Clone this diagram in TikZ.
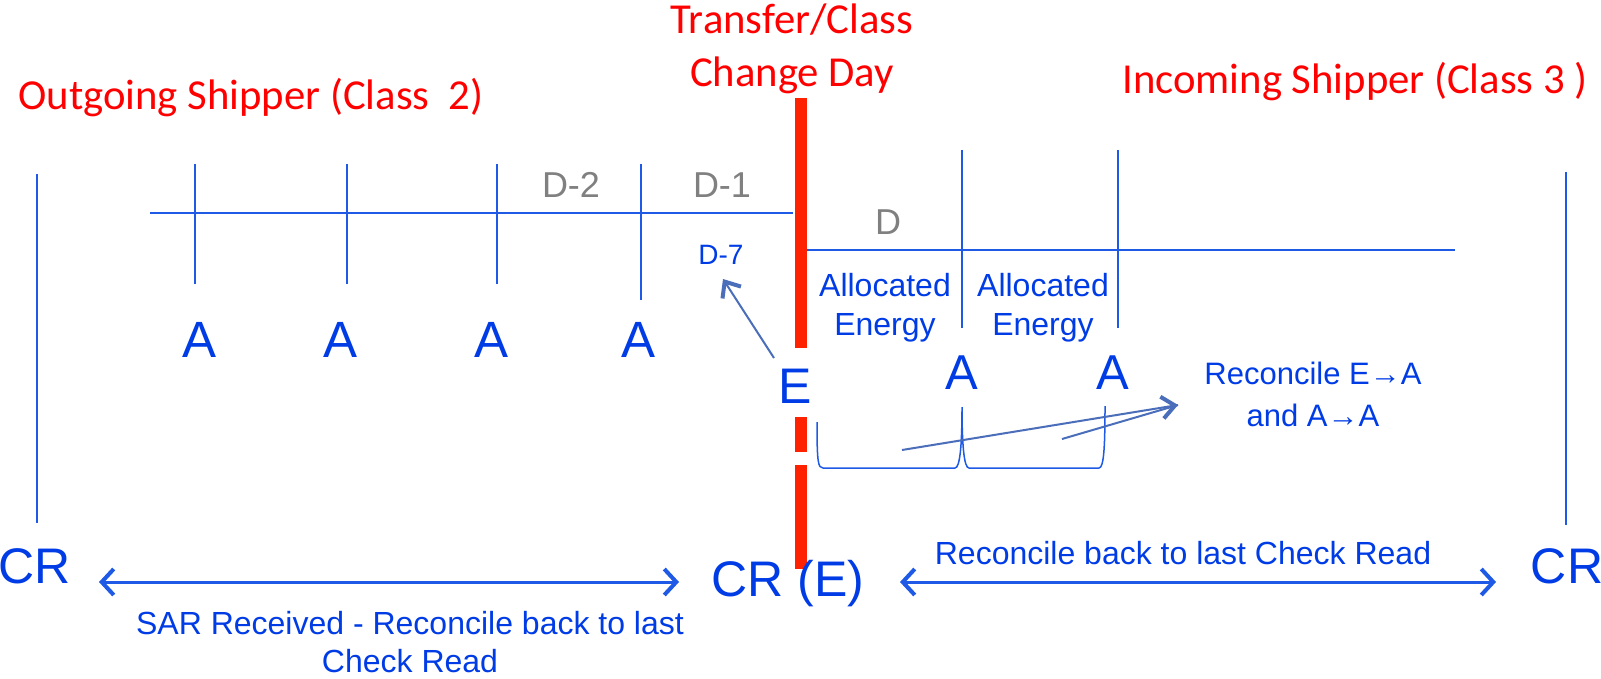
\documentclass[tikz,border=0pt]{standalone}
\usepackage{fontspec}
\setmainfont{Liberation Sans}
\newfontfamily\calib{Carlito}
\usetikzlibrary{arrows.meta}
\definecolor{tblue}{RGB}{0,60,230}
\definecolor{lblue}{RGB}{30,90,230}
\definecolor{sblue}{RGB}{74,110,185}
\definecolor{tred}{RGB}{255,0,0}
\definecolor{lred}{RGB}{255,34,0}
\definecolor{tgray}{RGB}{128,128,128}
\newcommand\pxfont[2]{\fontsize{#1}{#2}\selectfont}
\begin{document}
\begin{tikzpicture}[x=1pt,y=-1pt,
  tline/.style={draw=lblue, line width=2pt},
  redbar/.style={draw=lred, line width=12pt},
  title/.style={text=tred, font=\calib\pxfont{42.7}{53}, inner sep=0pt, align=center},
  bigA/.style={text=tblue, font=\pxfont{51}{56}, inner sep=0pt},
  midA/.style={text=tblue, font=\pxfont{49}{56}, inner sep=0pt},
  crlab/.style={text=tblue, font=\pxfont{50}{58}, inner sep=0pt},
  daylab/.style={text=tgray, font=\pxfont{36}{40}, inner sep=0pt},
  small/.style={text=tblue, font=\pxfont{28}{32}, inner sep=0pt},
  note/.style={text=tblue, font=\pxfont{32}{39}, inner sep=0pt, align=center},
  botnote/.style={text=tblue, font=\pxfont{32}{38}, inner sep=0pt, align=center},
  parr/.style={draw=sblue, line width=2pt, -{Straight Barb[length=13pt,width=22pt,line width=4pt]}},
  plainl/.style={draw=sblue, line width=2pt},
  darr/.style={draw=lblue, line width=3pt, {Straight Barb[length=12pt,width=26pt,line width=4pt]}-{Straight Barb[length=12pt,width=26pt,line width=4pt]}}
]
\useasboundingbox[fill=white] (0,0) rectangle (1601,678);

% titles
\node[title] (out) at (251,98) {Outgoing Shipper (Class\ \ 2)};
\node[title] (tc) at (792,49) {Transfer/Class\\Change Day};
\node[title] (inc) at (1355,82) {Incoming Shipper (Class 3 )};

% vertical end lines
\draw[tline] (37,174) -- (37,523);
\draw[tline] (1566,172) -- (1566,525);

% left timeline
\draw[tline] (150,213) -- (793,213);
\draw[tline] (195,164) -- (195,284);
\draw[tline] (347,164) -- (347,284);
\draw[tline] (497,164) -- (497,284);
\draw[tline] (641,164) -- (641,300);

% right timeline
\draw[tline] (807,250) -- (1455,250);
\draw[tline] (962,150) -- (962,328);
\draw[tline] (1118,150) -- (1118,328);

% red transfer line
\draw[redbar] (800.5,98) -- (800.5,348);
\draw[redbar] (800.5,417) -- (800.5,452);
\draw[redbar] (800.5,465) -- (800.5,569);

% day labels
\node[daylab] (d2) at (571,185) {D-2};
\node[daylab] (d1) at (722,185) {D-1};
\node[daylab] (d0) at (888,222) {D};
\node[small] (d7) at (721,255) {D-7};

% A labels
\node[bigA] (a1) at (200,340) {A};
\node[bigA] (a2) at (341,340) {A};
\node[bigA] (a3) at (492,340) {A};
\node[bigA] (a4) at (639,340) {A};
\node[bigA, font=\pxfont{50}{56}] (E) at (795,386) {E};
\node[midA] (a5) at (962,373) {A};
\node[midA] (a6) at (1113,373) {A};

\node[note] (ae1) at (885,308) {Allocated\\Energy};
\node[note] (ae2) at (1043,308) {Allocated\\Energy};

% bracket
\draw[draw=lblue, line width=1.5pt] (817,422) .. controls (817,462) and (818,468) .. (823,468)
  -- (955,468) .. controls (960,468) and (962,445) .. (962,407)
  .. controls (962,445) and (964,468) .. (969,468)
  -- (1099,468) .. controls (1104,468) and (1105,445) .. (1105,406);

% reconcile arrows
\node[note, font=\pxfont{31}{42}] (rec) at (1313,394) {Reconcile E→A\\and A→A};
\coordinate (tipR) at (1178,405);
\coordinate (s1) at (902,450);
\coordinate (s2) at (1062,439);
\draw[plainl] (s2) -- (tipR);
\draw[parr] (s1) -- (tipR);

% E -> D-7 arrow
\coordinate (eS) at (774,358);
\coordinate (d7T) at (723,279);
\draw[parr] (eS) -- (d7T);

% bottom CR labels
\node[crlab] (crl) at (35,566) {CR};
\node[crlab] (cre) at (788,584) {CR (E)};
\node[crlab] (crr) at (1567,566) {CR};

\coordinate (l1) at (99,582);
\coordinate (l2) at (679,582);
\coordinate (r1) at (900,582);
\coordinate (r2) at (1496,582);
\draw[darr] (l1) -- (l2);
\draw[darr] (r1) -- (r2);

\node[botnote] (rb) at (1183,553) {Reconcile back to last Check Read};
\node[botnote] (sar) at (410,642) {SAR Received - Reconcile back to last\\Check Read};
\end{tikzpicture}
\end{document}
